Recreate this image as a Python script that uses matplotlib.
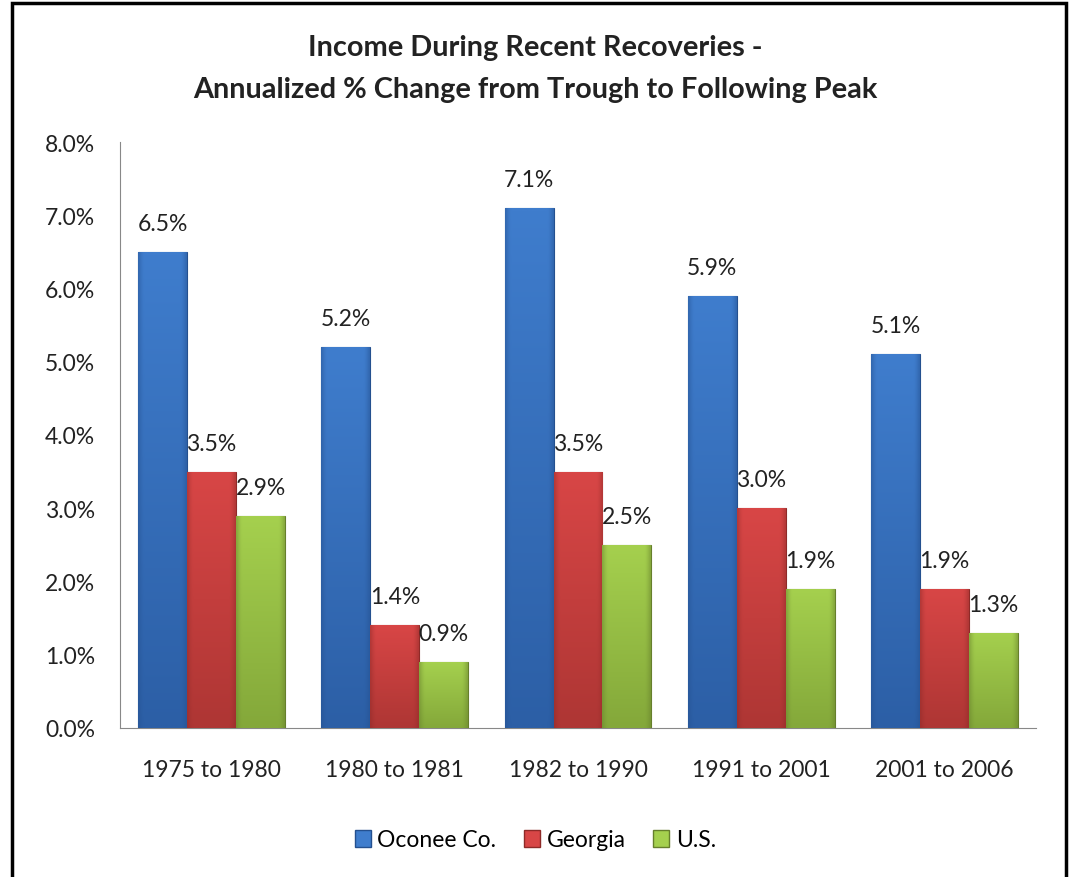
import matplotlib
matplotlib.use("Agg")
import matplotlib.pyplot as plt
import numpy as np
from matplotlib.patches import Rectangle, Patch
from matplotlib.colors import to_rgb

categories = ["1975 to 1980", "1980 to 1981", "1982 to 1990", "1991 to 2001", "2001 to 2006"]
series_names = ["Oconee Co.", "Georgia", "U.S."]
oconee = [6.5, 5.2, 7.1, 5.9, 5.1]
georgia = [3.5, 1.4, 3.5, 3.0, 1.9]
us = [2.9, 0.9, 2.5, 1.9, 1.3]
yticks = [0, 1, 2, 3, 4, 5, 6, 7, 8]
title = "Income During Recent Recoveries -\nAnnualized % Change from Trough to Following Peak"

colors_top = ["#3F7DCD", "#D84646", "#A5D04E"]
colors_bot = ["#2C5FA6", "#AE3634", "#84A83A"]
edge_cols = ["#24508F", "#8E2A28", "#667F2C"]

FONT = ["Lato", "DejaVu Sans"]
plt.rcParams['font.family'] = FONT
FS = 16.5

fig = plt.figure(figsize=(10.71, 8.78), dpi=100)
ax = fig.add_axes([120/1071, 1-729/878, (1036-120)/1071, (729-143)/878])

x = np.arange(len(categories))
w = 0.267
data = [oconee, georgia, us]
for i, vals in enumerate(data):
    bars = ax.bar(x + (i-1)*w, vals, width=w, color=colors_top[i], edgecolor=edge_cols[i],
                  linewidth=0.8, zorder=3, label=series_names[i])
    ct = np.array(to_rgb(colors_top[i])); cb = np.array(to_rgb(colors_bot[i]))
    ce = np.array(to_rgb(edge_cols[i]))
    for b, v in zip(bars, vals):
        x0 = b.get_x(); bw = b.get_width(); h = b.get_height()
        ny, nx = 64, 32
        t = np.linspace(0, 1, ny)[:, None]
        base = ct[None, None, :]*(1-t[..., None]) + cb[None, None, :]*t[..., None]
        base = np.repeat(base, nx, axis=1)
        s = np.linspace(0, 1, nx)
        side = np.clip(1 - np.minimum(s, 1-s)/0.12, 0, 1)**1.5 * 0.45
        img = base*(1-side[None, :, None]) + ce[None, None, :]*side[None, :, None]
        im = ax.imshow(img, extent=[x0, x0+bw, 0, h], aspect='auto', zorder=3.5,
                       interpolation='bilinear', origin='upper')
        im.set_clip_path(b)
        ax.annotate(f"{v:.1f}%", (x0+bw/2, h), xytext=(0, 13), textcoords='offset points',
                    ha='center', va='bottom', fontsize=FS, color='#222222', zorder=5)

ax.set_xlim(-0.5, len(categories)-0.5)
ax.set_ylim(0, 8)
ax.set_yticks(yticks)
ax.set_yticklabels([f"{v:.1f}%" for v in yticks], fontsize=FS, color='#222222')
ax.set_xticks(x)
ax.set_xticklabels(categories, fontsize=FS, color='#222222')
ax.tick_params(axis='y', length=0, pad=18)
ax.tick_params(axis='x', length=0, pad=22)
for sp in ['top', 'right']:
    ax.spines[sp].set_visible(False)
ax.spines['left'].set_color('#888888')
ax.spines['bottom'].set_color('#888888')

fig.text(0.5, 1-69/878, title, ha='center', va='center', fontsize=20.8, fontweight='bold',
         color='#222222', linespacing=1.72)

handles = [Patch(facecolor=colors_top[i], edgecolor=edge_cols[i], label=series_names[i]) for i in range(3)]
fig.legend(handles=handles, loc='center', bbox_to_anchor=(0.5, 1-841/878), ncol=3, frameon=False,
           fontsize=FS, handlelength=0.7, handleheight=0.7, handletextpad=0.3, columnspacing=1.2)

fig.patches.append(Rectangle((12/1071, -0.05), (1066-12)/1071, 1.05-4/878, transform=fig.transFigure,
                             fill=False, edgecolor='black', linewidth=2.5))

fig.savefig("out.png", dpi=100)
